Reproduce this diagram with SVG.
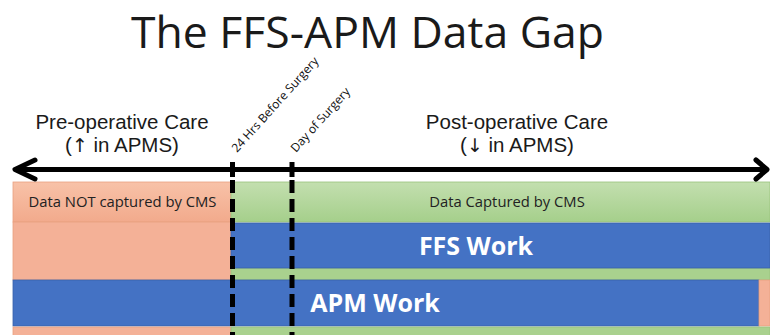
<svg xmlns="http://www.w3.org/2000/svg" width="770" height="335" viewBox="0 0 770 335">
  <defs>
    <linearGradient id="gSalmon" x1="0" y1="0" x2="0" y2="1">
      <stop offset="0" stop-color="#F8C2A8"/>
      <stop offset="1" stop-color="#F2AA8C"/>
    </linearGradient>
    <linearGradient id="gGreen" x1="0" y1="0" x2="0" y2="1">
      <stop offset="0" stop-color="#C3DFAF"/>
      <stop offset="1" stop-color="#A5CF8B"/>
    </linearGradient>
  </defs>
  <style>
    .salmon { fill: #F4B197; stroke: #E9A080; stroke-width: 0.8; }
    .green { fill: #A9D18E; stroke: #98C27C; stroke-width: 0.8; }
    .blue { fill: #4472C4; stroke: #3A62AA; stroke-width: 0.8; }
    .head { font-family: "Open Sans", "Liberation Sans", sans-serif; fill: #1a1a1a; }
    .care { font-family: "Liberation Sans", Arial, sans-serif; font-size: 20.5px; fill: #1a1a1a; }
    .arrow { font-family: "DejaVu Sans", sans-serif; font-size: 19px; }
    .small { font-family: "Open Sans", "Liberation Sans", sans-serif; font-size: 14.8px; fill: #222; }
    .work { font-family: "Open Sans", "Liberation Sans", sans-serif; font-weight: bold; font-size: 25px; fill: #ffffff; }
    .rot { font-family: "Open Sans", "Liberation Sans", sans-serif; font-size: 12px; fill: #111; }
    .dash { stroke: #000; stroke-width: 5; stroke-dasharray: 13 6; fill: none; }
  </style>

  <text id="title" x="367.5" y="48" text-anchor="middle" class="head" font-size="44.5">The FFS-APM Data Gap</text>

  <g id="pre-label">
    <text x="122" y="129" text-anchor="middle" class="care">Pre-operative Care</text>
    <text x="122" y="152" text-anchor="middle" class="care">(<tspan class="arrow">↑</tspan> in APMS)</text>
  </g>
  <g id="post-label">
    <text x="517" y="129" text-anchor="middle" class="care">Post-operative Care</text>
    <text x="517" y="152" text-anchor="middle" class="care">(<tspan class="arrow">↓</tspan> in APMS)</text>
  </g>

  <g id="label-24hrs">
    <text x="0" y="0" class="rot" transform="translate(237,153) rotate(-48)">24 Hrs Before Surgery</text>
  </g>
  <g id="label-day">
    <text x="0" y="0" class="rot" transform="translate(296,153) rotate(-48)">Day of Surgery</text>
  </g>

  <g id="row-capture">
    <rect x="13" y="182" width="218" height="40" fill="url(#gSalmon)" stroke="#E9A080" stroke-width="0.8"/>
    <rect x="231" y="182" width="539" height="40" fill="url(#gGreen)" stroke="#98C27C" stroke-width="0.8"/>
    <text x="122.5" y="207" text-anchor="middle" class="small">Data NOT captured by CMS</text>
    <text x="507" y="207" text-anchor="middle" class="small">Data Captured by CMS</text>
  </g>

  <g id="row-ffs">
    <rect x="13" y="222" width="218" height="58" class="salmon"/>
    <rect x="231" y="268" width="539" height="12" class="green"/>
    <rect x="231" y="223" width="539" height="45" class="blue"/>
    <text x="476" y="255" text-anchor="middle" class="work">FFS Work</text>
  </g>

  <g id="row-apm">
    <rect x="13" y="280" width="746" height="46" class="blue"/>
    <rect x="759" y="280" width="11" height="46" class="salmon"/>
    <text x="375" y="312" text-anchor="middle" class="work">APM Work</text>
  </g>

  <g id="row-bottom">
    <rect x="13" y="327" width="218" height="10" class="salmon"/>
    <rect x="231" y="327" width="539" height="10" class="green"/>
  </g>

  <g id="connectors">
    <line x1="16" y1="169.5" x2="766" y2="169.5" stroke="#000" stroke-width="5"/>
    <polyline points="35,160 15,169.5 35,179" fill="none" stroke="#000" stroke-width="5" stroke-linecap="round" stroke-linejoin="round"/>
    <polyline points="756,160 767,169.5 756,179" fill="none" stroke="#000" stroke-width="5" stroke-linecap="round" stroke-linejoin="round"/>
    <rect x="230" y="162" width="5" height="15" fill="#000"/>
    <rect x="289.5" y="162" width="5" height="15" fill="#000"/>
    <line x1="232.5" y1="180" x2="232.5" y2="335" class="dash"/>
    <line x1="292" y1="180" x2="292" y2="335" class="dash"/>
  </g>
</svg>
